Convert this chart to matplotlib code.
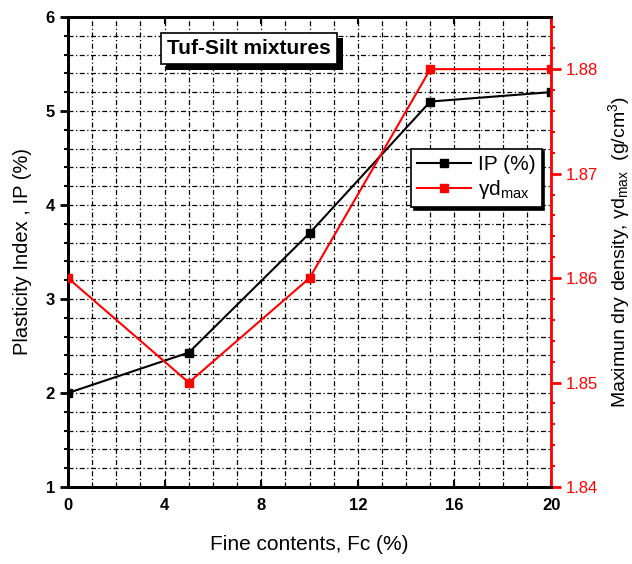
import matplotlib.pyplot as plt
import numpy as np
from matplotlib.ticker import MultipleLocator
import matplotlib.patheffects as pe

# data
fc = [0, 5, 10, 15, 20]
ip = [2.0, 2.43, 3.7, 5.1, 5.2]
gd_max = [1.86, 1.85, 1.86, 1.88, 1.88]

plt.rcParams['font.family'] = ['Liberation Sans', 'DejaVu Sans']
plt.rcParams['mathtext.default'] = 'regular'

fig = plt.figure(figsize=(6.32, 5.64), dpi=100)
ax = fig.add_axes([0.1076, 0.1365, 0.7644, 0.8335])
ax2 = ax.twinx()

ax.plot(fc, ip, color='black', marker='s', markersize=6, lw=1.5, label='IP (%)', zorder=3)
ax2.plot(fc, gd_max, color='red', marker='s', markersize=6, lw=1.5, label=r'$\gamma d_{max}$', zorder=3)

ax.set_xlim(0, 20)
ax.set_ylim(1, 6)
ax2.set_ylim(1.84, 1.885)

ax.xaxis.set_major_locator(MultipleLocator(4))
ax.xaxis.set_minor_locator(MultipleLocator(1))
ax.yaxis.set_major_locator(MultipleLocator(1))
ax.yaxis.set_minor_locator(MultipleLocator(0.2))
ax2.yaxis.set_minor_locator(MultipleLocator(0.002))
ax2.set_yticks([1.84, 1.85, 1.86, 1.87, 1.88])
ax2.set_yticklabels(['1.84', '1.85', '1.86', '1.87', '1.88'])

ax.grid(True, which='both', color='black', ls=(0, (4, 2, 1, 2)), lw=0.9)

ax.tick_params(axis='y', which='major', direction='out', length=6, width=2, labelsize=12)
ax.tick_params(axis='y', which='minor', direction='out', length=3, width=1.5)
ax.tick_params(axis='x', which='major', direction='in', length=5, width=1.5, labelsize=12,
               top=True, pad=8)
ax.tick_params(axis='x', which='minor', length=0)
for lab in ax.get_xticklabels() + ax.get_yticklabels():
    lab.set_fontweight('bold')

ax2.tick_params(axis='y', which='major', direction='out', length=7, width=2, colors='red', labelsize=12)
ax2.tick_params(axis='y', which='minor', direction='out', length=3, width=1.5, colors='red')

for s in ['left', 'bottom', 'top']:
    ax.spines[s].set_linewidth(2)
ax2.spines['left'].set_linewidth(2)
ax2.spines['bottom'].set_linewidth(2)
ax2.spines['top'].set_linewidth(2)
ax2.spines['right'].set_color('red')
ax2.spines['right'].set_linewidth(2)

ax.set_xlabel('Fine contents, Fc (%)', fontsize=15, labelpad=16)
ax.set_ylabel('Plasticity Index , IP (%)', fontsize=14.5, labelpad=10)
ax2.set_ylabel(r'Maximun dry density, $\gamma d_{max}$  (g/cm$^3$)', fontsize=14, labelpad=6)

# title box with shadow
ax.text(0.205, 0.933, 'Tuf-Silt mixtures', transform=ax.transAxes, fontsize=15,
        fontweight='bold', ha='left', va='center', zorder=5,
        bbox=dict(boxstyle='square,pad=0.3', fc='white', ec='black', lw=1.2,
                  path_effects=[pe.withSimplePatchShadow(offset=(4, -4), shadow_rgbFace='black', alpha=1)]))

h1, l1 = ax.get_legend_handles_labels()
h2, l2 = ax2.get_legend_handles_labels()
leg = ax2.legend(h1 + h2, l1 + l2, loc='upper left', bbox_to_anchor=(0.71, 0.72),
                 fancybox=False, shadow={'color': 'black', 'alpha': 1}, framealpha=1,
                 edgecolor='black', fontsize=15, handlelength=2.6, handletextpad=0.3,
                 borderpad=0.3, labelspacing=0.2, borderaxespad=0)
leg.get_frame().set_linewidth(1.2)

fig.savefig('out.png', dpi=100)
